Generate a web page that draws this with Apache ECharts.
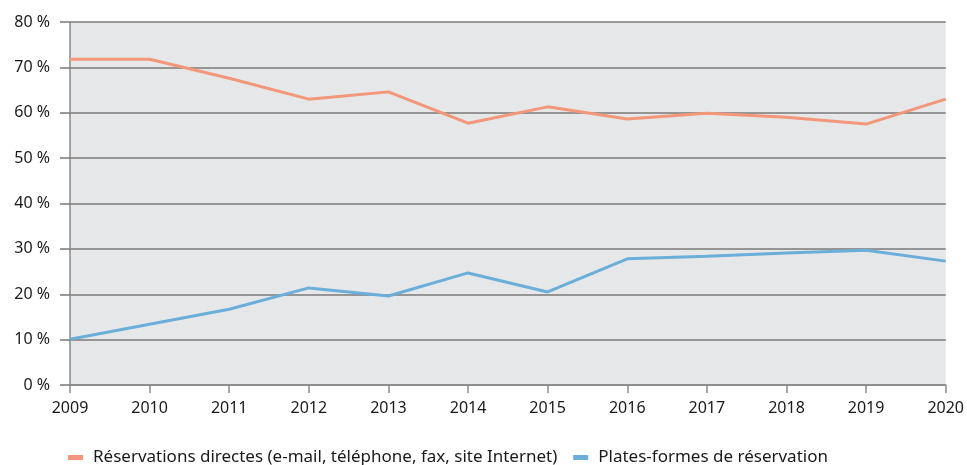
<!DOCTYPE html>
<html>
<head>
<meta charset="utf-8">
<script src="https://cdn.jsdelivr.net/npm/echarts@6/dist/echarts.min.js"></script>
<style>
  html, body { margin: 0; padding: 0; background: #fff; }
  #chart { width: 967px; height: 465px; }
</style>
</head>
<body>
<div id="chart"></div>
<script>
  var years = ['2009', '2010', '2011', '2012', '2013', '2014', '2015', '2016', '2017', '2018', '2019', '2020'];
  var directes = [71.8, 71.8, 67.6, 63.0, 64.6, 57.7, 61.3, 58.6, 59.9, 59.0, 57.5, 63.0];
  var plateformes = [10.1, 13.4, 16.7, 21.4, 19.6, 24.7, 20.5, 27.8, 28.4, 29.1, 29.7, 27.3];
  var seriesNames = ['Réservations directes (e-mail, téléphone, fax, site Internet)', 'Plates-formes de réservation'];

  var font = '"Noto Sans", Lato, sans-serif';
  var chart = echarts.init(document.getElementById('chart'));
  chart.setOption({
    animation: false,
    textStyle: { fontFamily: font },
    grid: {
      left: 70, right: 19, top: 22, bottom: 80,
      show: true, backgroundColor: '#e6e7e9', borderWidth: 0
    },
    legend: {
      left: 63, top: 444,
      icon: 'rect', itemWidth: 15, itemHeight: 5, itemGap: 16,
      textStyle: { fontSize: 17, color: '#1a1a1a', fontFamily: font, padding: [0, 0, 0, 5] },
      data: seriesNames
    },
    xAxis: {
      type: 'category',
      data: years,
      boundaryGap: false,
      axisLine: { lineStyle: { color: '#8a8a8a', width: 1.5 } },
      axisTick: { show: true, length: 8, lineStyle: { color: '#8a8a8a', width: 1.5 } },
      axisLabel: { fontSize: 16, color: '#1a1a1a', margin: 15 },
      splitLine: { show: false }
    },
    yAxis: {
      type: 'value',
      min: 0, max: 80, interval: 10,
      axisLine: { show: true, lineStyle: { color: '#8a8a8a', width: 1.5 } },
      axisTick: { show: true, length: 10, lineStyle: { color: '#7a7a7a', width: 1.5 } },
      axisLabel: { fontSize: 16, color: '#1a1a1a', margin: 20, formatter: function (v) { return v + ' %'; } },
      splitLine: { show: true, lineStyle: { color: '#7a7a7a', width: 1.5 } }
    },
    series: [
      {
        name: seriesNames[0], type: 'line', data: directes,
        symbol: 'none', lineStyle: { color: '#f4967a', width: 3 }, itemStyle: { color: '#f4967a' }
      },
      {
        name: seriesNames[1], type: 'line', data: plateformes,
        symbol: 'none', lineStyle: { color: '#6aaed9', width: 3 }, itemStyle: { color: '#6aaed9' }
      }
    ]
  });
</script>
</body>
</html>
